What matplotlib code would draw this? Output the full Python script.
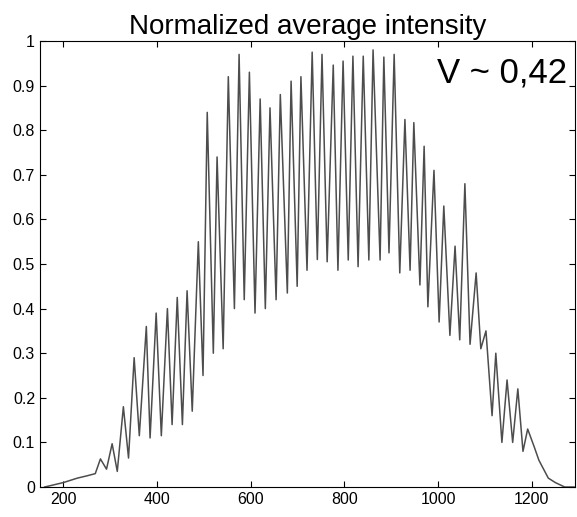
import numpy as np
import matplotlib
matplotlib.use("Agg")
import matplotlib.pyplot as plt
from matplotlib.ticker import FuncFormatter

plt.rcParams['font.family'] = ['Liberation Sans', 'DejaVu Sans']

# fringe maxima (position, normalized intensity)
peak_x = [279, 304, 328, 351, 377, 398, 422, 443, 464, 488, 507, 528, 552, 575,
          597, 620, 641, 663, 686, 707, 731, 752, 776, 797, 818, 840, 861, 884,
          906, 929, 948, 970, 991, 1012, 1036, 1057, 1081, 1102, 1123, 1147,
          1170, 1191]
peak_y = [0.063, 0.097, 0.18, 0.29, 0.36, 0.39, 0.40, 0.425, 0.44, 0.55, 0.84,
          0.74, 0.92, 0.97, 0.93, 0.87, 0.85, 0.88, 0.91, 0.92, 0.975, 0.97,
          0.946, 0.955, 0.966, 0.966, 0.98, 0.964, 0.97, 0.824, 0.817, 0.764,
          0.71, 0.63, 0.54, 0.68, 0.48, 0.35, 0.30, 0.24, 0.22, 0.13]

# fringe minima
trough_x = [292, 315, 339, 362, 385, 409, 432, 454, 475, 498, 520, 541, 565, 586,
            609, 631, 654, 678, 699, 720, 742, 763, 786, 808, 829, 852, 876, 895,
            918, 940, 961, 978, 1002, 1025, 1046, 1068, 1091, 1115, 1136, 1159,
            1181]
trough_y = [0.04, 0.035, 0.065, 0.115, 0.11, 0.115, 0.14, 0.14, 0.17, 0.25, 0.30,
            0.31, 0.40, 0.42, 0.39, 0.40, 0.42, 0.435, 0.45, 0.486, 0.51, 0.505,
            0.486, 0.509, 0.494, 0.509, 0.509, 0.525, 0.48, 0.486, 0.453, 0.404,
            0.37, 0.34, 0.33, 0.32, 0.31, 0.16, 0.10, 0.10, 0.08]

# faint tails on both sides
tail_x = [160, 200, 230, 250, 268, 1205, 1215, 1225, 1235, 1250, 1270, 1290]
tail_y = [0.0, 0.01, 0.02, 0.025, 0.03, 0.09, 0.06, 0.04, 0.02, 0.01, 0.0, 0.0]

x = np.concatenate([peak_x, trough_x, tail_x])
y = np.concatenate([peak_y, trough_y, tail_y])
order = np.argsort(x)
x, y = x[order], y[order]

fig = plt.figure(figsize=(5.77, 5.17), dpi=100)
ax = fig.add_axes([0.0693, 0.058, 0.9272, 0.8627])

ax.plot(x, y, color='0.3', linewidth=1.1)

ax.set_xlim(150, 1292)
ax.set_ylim(0, 1)
ax.set_xticks([200, 400, 600, 800, 1000, 1200])
ax.set_yticks(np.arange(0, 1.01, 0.1))
ax.yaxis.set_major_formatter(FuncFormatter(lambda v, p: ('%.1f' % v).rstrip('0').rstrip('.') if v else '0'))
ax.tick_params(direction='in', top=True, right=True, labelsize=11.5, length=4)

ax.set_title('Normalized average intensity', fontsize=20, pad=5)
ax.text(0.985, 0.908, 'V ~ 0,42', transform=ax.transAxes, ha='right',
        va='baseline', fontsize=25)

fig.savefig('out.png', dpi=100)
